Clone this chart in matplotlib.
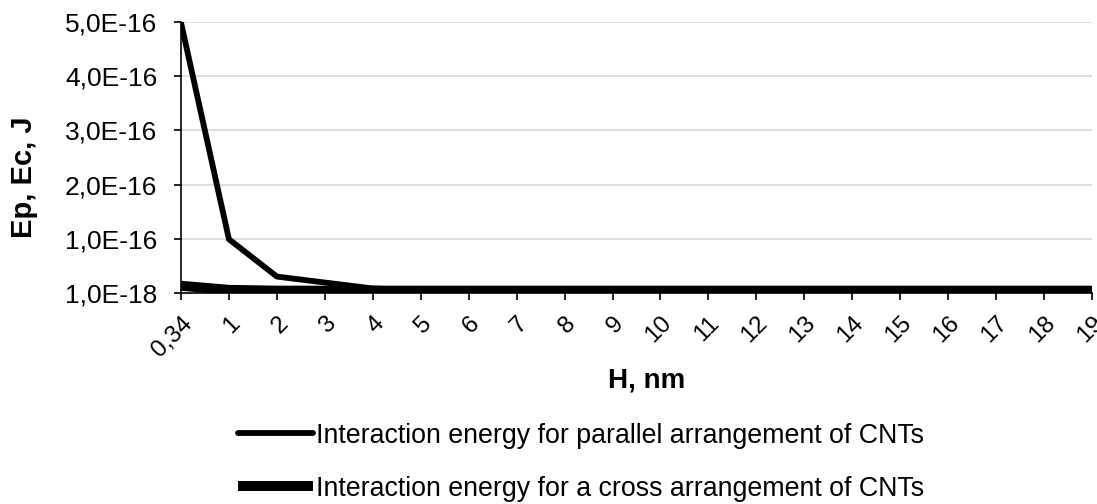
import numpy as np
import matplotlib.pyplot as plt
from matplotlib.ticker import FuncFormatter

plt.rcParams['font.family'] = ['Liberation Sans', 'DejaVu Sans']

# H, nm (categories)
h_labels = ['0,34', '1', '2', '3', '4', '5', '6', '7', '8', '9', '10',
            '11', '12', '13', '14', '15', '16', '17', '18', '19']
# interaction energy, J
e_parallel = [5.0e-16, 1.0e-16, 3.1e-17, 2.0e-17, 9e-18, 6e-18, 6e-18, 6e-18, 6e-18, 6e-18,
              6e-18, 6e-18, 6e-18, 6e-18, 6e-18, 6e-18, 6e-18, 6e-18, 6e-18, 6e-18]
e_cross = [1.4e-17, 6.5e-18, 5e-18, 5e-18, 5e-18, 5e-18, 5e-18, 5e-18, 5e-18, 5e-18,
           5e-18, 5e-18, 5e-18, 5e-18, 5e-18, 5e-18, 5e-18, 5e-18, 5e-18, 5e-18]

x = np.arange(len(h_labels))

fig = plt.figure(figsize=(10.97, 5.04), dpi=100)
ax = fig.add_axes([0.165, 0.419, 0.8304, 0.537])

ax.plot(x, e_parallel, color='black', lw=4.2, solid_capstyle='round',
        label='Interaction energy for parallel arrangement of CNTs', zorder=3)
ax.plot(x, e_cross, color='black', lw=7.2, solid_capstyle='butt',
        label='Interaction energy for a cross arrangement of CNTs', zorder=3)

yt = [1e-18 + k * 1e-16 for k in range(6)]
ax.set_yticks(yt)
ax.yaxis.set_major_formatter(FuncFormatter(lambda v, p: ('%.1E' % v).replace('.', ',')))
ax.set_ylim(1e-18, yt[-1])
ax.set_xlim(0, len(h_labels) - 1)
ax.set_xticks(x)
ax.set_xticklabels(h_labels, rotation=45, ha='right', va='top', rotation_mode='anchor')

ax.grid(axis='y', color='#d9d9d9', lw=1.2)
ax.set_axisbelow(True)
for s in ['top', 'right']:
    ax.spines[s].set_visible(False)
ax.spines['left'].set_linewidth(1.2)
ax.spines['bottom'].set_linewidth(1.2)
ax.tick_params(axis='both', direction='out', length=5, width=1.2)
ax.tick_params(axis='y', labelsize=19, pad=12)
ax.tick_params(axis='x', labelsize=17.5, pad=9)

ax.set_ylabel('Ep, Ec, J', fontsize=21, fontweight='bold')
ax.yaxis.set_label_coords(-0.157, 0.428)
ax.set_xlabel('H, nm', fontsize=20, fontweight='bold')
ax.xaxis.set_label_coords(0.5115, -0.276)

fig.legend(loc='upper left', bbox_to_anchor=(238 / 1097, 0.161), frameon=False,
           borderpad=0, borderaxespad=0, fontsize=19.3, handlelength=2.8,
           handletextpad=0.1, labelspacing=1.0)

fig.savefig('out.png', dpi=100)
